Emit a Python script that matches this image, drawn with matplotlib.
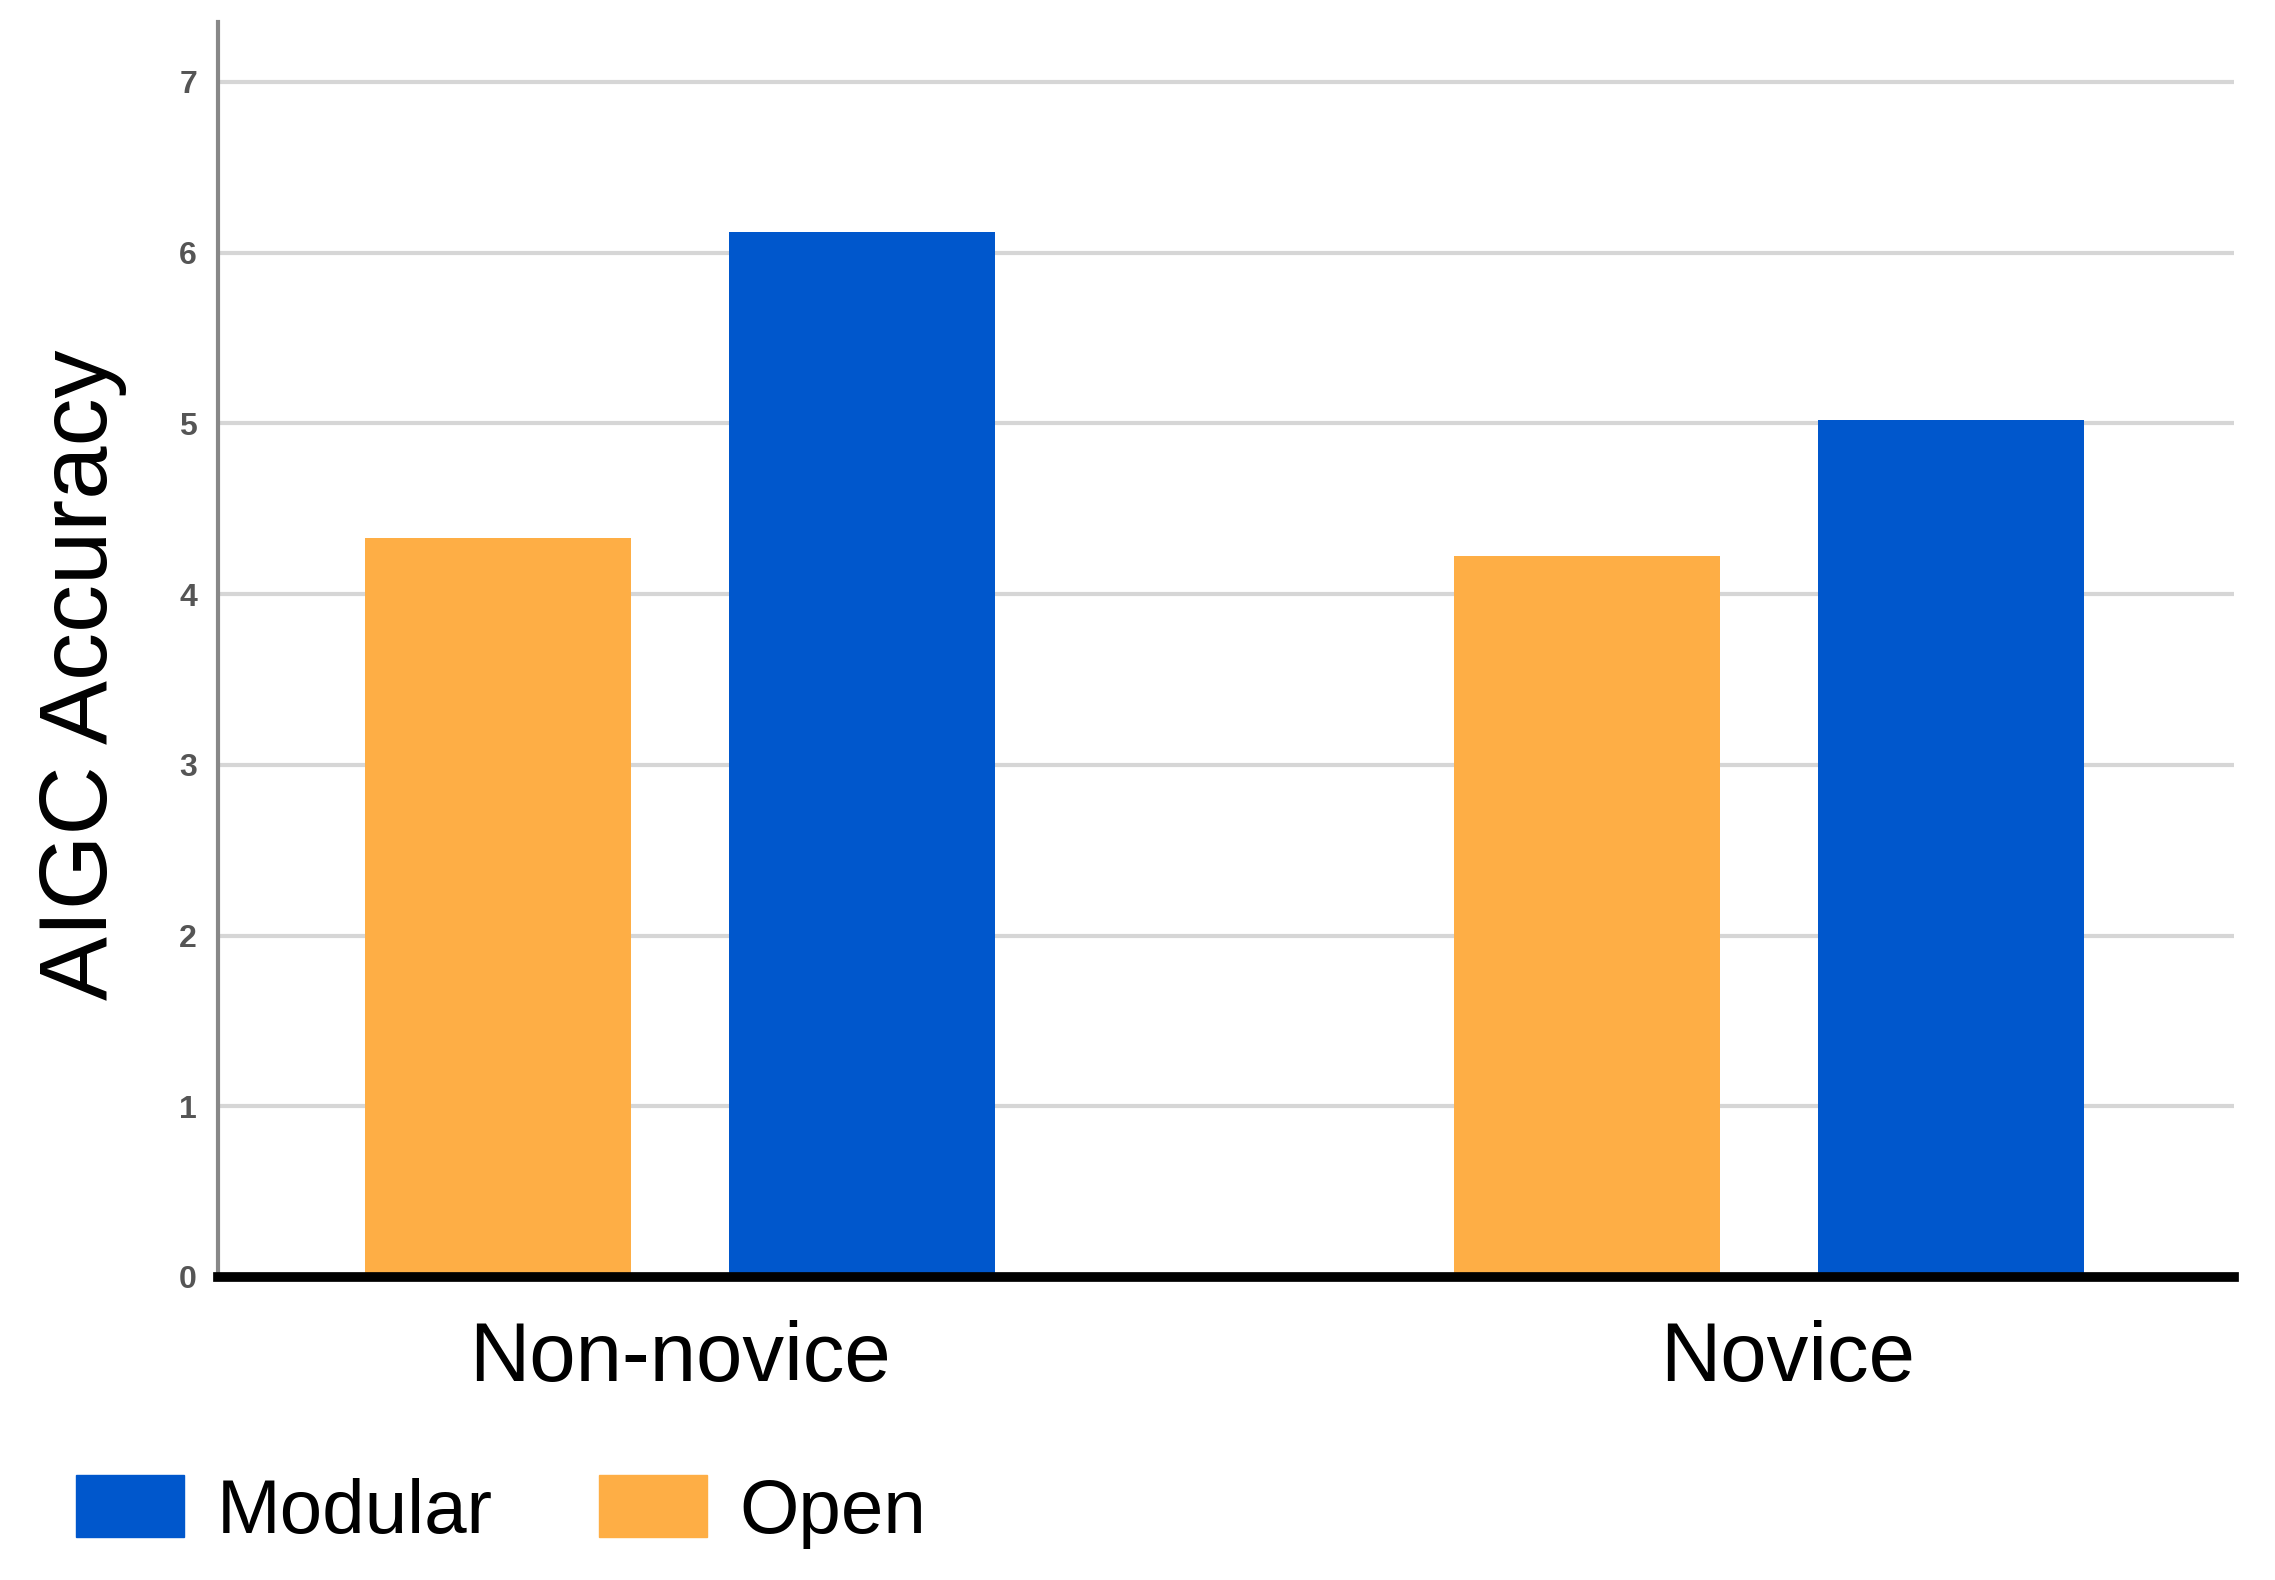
import matplotlib
matplotlib.use("Agg")
import matplotlib.pyplot as plt
import matplotlib.patches as mpatches
from matplotlib.transforms import ScaledTranslation
import numpy as np

# values
groups = ["Non-novice", "Novice"]
open_scores = [4.33, 4.22]
modular_scores = [6.12, 5.02]
y_ticks = [0, 1, 2, 3, 4, 5, 6, 7]

BLUE = "#0057CC"
ORANGE = "#FEAE45"

plt.rcParams["font.family"] = ["Liberation Sans", "DejaVu Sans"]

fig = plt.figure(figsize=(22.75, 15.8), dpi=100)
ax = fig.add_axes([0.0958, 0.1918, 0.982 - 0.0958, 0.986 - 0.1918])

x = np.arange(len(groups))
width = 0.244
offset = 0.167

ax.bar(x - offset, open_scores, width, color=ORANGE, zorder=3, label="Open")
ax.bar(x + offset, modular_scores, width, color=BLUE, zorder=3, label="Modular")

ax.set_xlim(-0.424, 1.427)
ax.set_ylim(0, 7.35)

# grid and axes
ax.set_yticks(y_ticks)
ax.set_yticklabels([str(t) for t in y_ticks], fontweight="bold")
ax.yaxis.grid(True, color="#d6d6d6", linewidth=3, zorder=0)
ax.axhline(0, color="black", linewidth=7, zorder=4, clip_on=False)
for side in ["top", "right", "bottom"]:
    ax.spines[side].set_visible(False)
ax.spines["left"].set_color("#888888")
ax.spines["left"].set_linewidth(3)
ax.tick_params(axis="y", length=0, pad=15, labelsize=23, labelcolor="#555555")

ax.set_xticks(x)
ax.set_xticklabels(groups)
ax.tick_params(axis="x", length=0, pad=31, labelsize=60, labelcolor="black")
# the Novice label sits a little right of its group centre in the original
novice_lbl = ax.get_xticklabels()[1]
novice_lbl.set_transform(novice_lbl.get_transform() +
                         ScaledTranslation(0.19, 0, fig.dpi_scale_trans))

ax.set_ylabel("AIGC Accuracy", fontsize=69)
ax.yaxis.set_label_coords(-0.045, 0.48)

# legend, Modular first
handles = [mpatches.Patch(color=BLUE, label="Modular"),
           mpatches.Patch(color=ORANGE, label="Open")]
fig.legend(handles=handles, loc="center left",
           bbox_to_anchor=(0.0334, 0.043), bbox_transform=fig.transFigure,
           ncol=2, frameon=False, fontsize=55, borderpad=0, borderaxespad=0,
           handlelength=1.42, handleheight=0.87, handletextpad=0.42,
           columnspacing=1.39)

fig.savefig("out.png", dpi=100, facecolor="white")
